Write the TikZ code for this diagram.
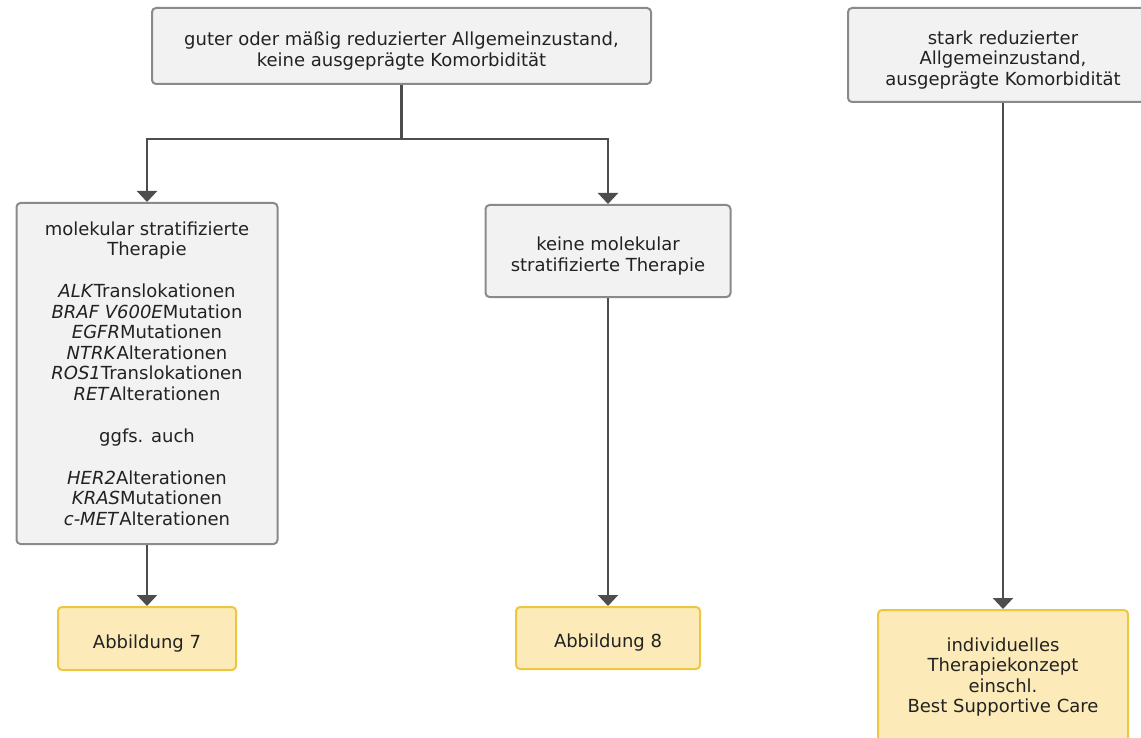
\documentclass[tikz,border=0pt]{standalone}
\usepackage{fontspec}
\setmainfont{DejaVu Sans}
\usetikzlibrary{arrows.meta}
\definecolor{boxgrey}{HTML}{F2F2F2}
\definecolor{linegrey}{HTML}{8A8A8A}
\definecolor{arrowgrey}{HTML}{4D4D4D}
\definecolor{boxyellow}{HTML}{FCEBB8}
\definecolor{lineyellow}{HTML}{EDC73F}
\definecolor{textdark}{HTML}{222222}
\newcommand{\topgap}{\rule{0pt}{23.5pt}}

\begin{document}
\begin{tikzpicture}[
x=1pt, y=-1pt,
every node/.style={font=\fontsize{18}{20.5}\selectfont, text=textdark, align=center, inner sep=0pt},
greybox/.style={rectangle, rounded corners=4pt, draw=linegrey, fill=boxgrey, line width=2pt},
yellowbox/.style={rectangle, rounded corners=4pt, draw=lineyellow, fill=boxyellow, line width=2pt},
arrow/.style={draw=arrowgrey, line width=2.5pt, -{Triangle[width=20pt,length=11pt]}}
]
\useasboundingbox (0,0) rectangle (1141,738);
%Nodes
\node[greybox, minimum width=499pt, minimum height=76pt]   (good)  at (401.5,46)
  {\topgap guter oder mäßig reduzierter Allgemeinzustand,\\ keine ausgeprägte Komorbidität};
\node[greybox, minimum width=310pt, minimum height=94pt]   (poor)  at (1003,55)
  {\topgap stark reduzierter\\ Allgemeinzustand,\\ ausgeprägte Komorbidität};
\node[greybox, minimum width=261pt, minimum height=341pt]  (mol)   at (147,373.5)
  {molekular stratifizierte\\ Therapie\\[21.5pt]
   \textit{ALK}Translokationen\\ \textit{BRAF V600E}Mutation\\ \textit{EGFR}Mutationen\\
   \textit{NTRK}Alterationen\\ \textit{ROS1}Translokationen\\ \textit{RET}Alterationen\\[21.5pt]
   ggfs. auch\\[21.5pt]
   \textit{HER2}Alterationen\\ \textit{KRAS}Mutationen\\ \textit{c-MET}Alterationen};
\node[greybox, minimum width=245pt, minimum height=92pt]   (nomol) at (608,251)
  {\topgap keine molekular\\ stratifizierte Therapie};
\node[yellowbox, minimum width=178pt, minimum height=63pt] (abb7)  at (147,638.5) {\topgap Abbildung 7};
\node[yellowbox, minimum width=184pt, minimum height=62pt] (abb8)  at (608,638) {\topgap Abbildung 8};
\node[yellowbox, minimum width=250pt, minimum height=134pt] (bsc)  at (1003,677)
  {individuelles\\ Therapiekonzept\\ einschl.\\ Best Supportive Care};
%Lines
\coordinate (split) at (401.5,139);
\draw[draw=arrowgrey, line width=2.5pt] (good.south) -- (split);
\draw[arrow] (split) -| (mol.north);
\draw[arrow] (split) -| (nomol.north);
\draw[arrow] (mol.south) -- (abb7.north);
\draw[arrow] (nomol.south) -- (abb8.north);
\draw[arrow] (poor.south) -- (bsc.north);
\end{tikzpicture}
\end{document}
